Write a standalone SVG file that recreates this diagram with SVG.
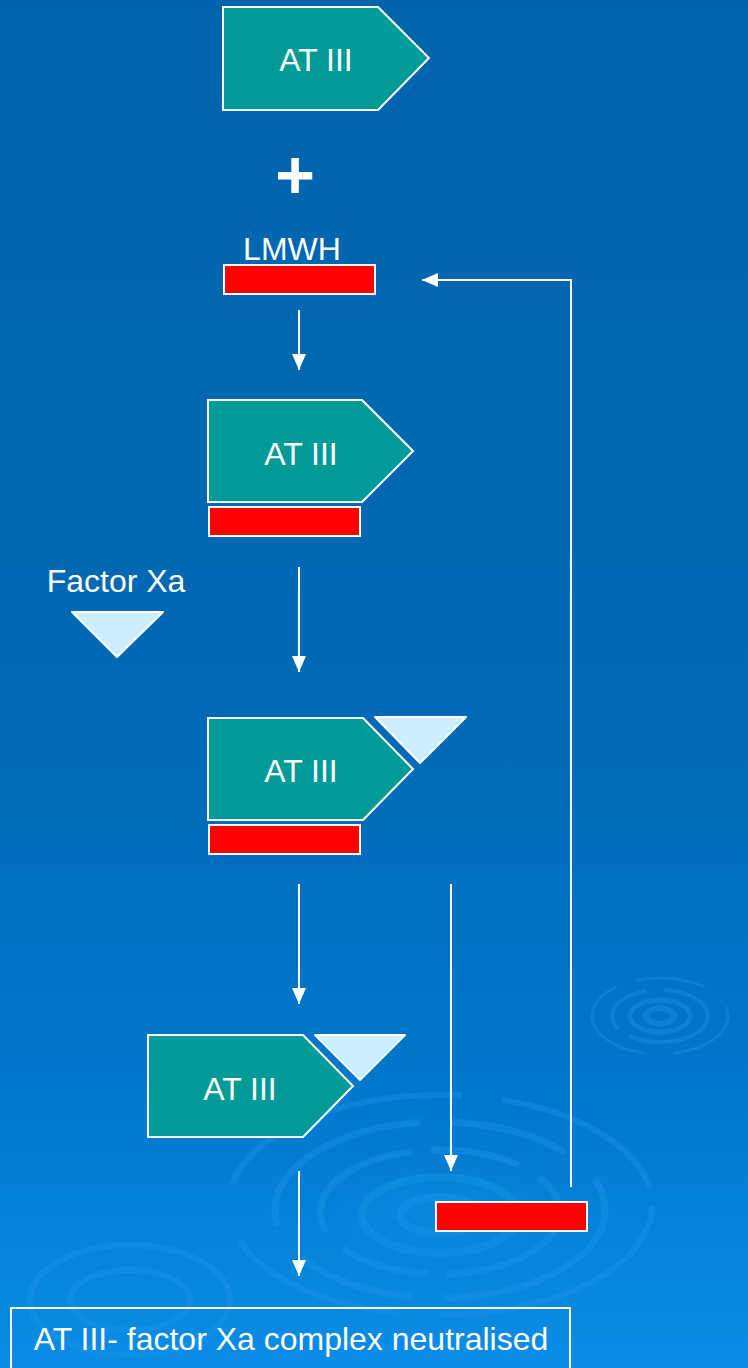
<svg xmlns="http://www.w3.org/2000/svg" width="748" height="1368" viewBox="0 0 748 1368">
  <defs>
    <linearGradient id="bg" x1="0" y1="0" x2="0" y2="1">
      <stop offset="0" stop-color="#0064AC"/>
      <stop offset="0.55" stop-color="#006AB6"/>
      <stop offset="0.8" stop-color="#0078CC"/>
      <stop offset="1" stop-color="#0A8CE6"/>
    </linearGradient>
    <radialGradient id="dropCore" cx="0.5" cy="0.5" r="0.5">
      <stop offset="0" stop-color="#0A88DE"/>
      <stop offset="1" stop-color="#0A88DE" stop-opacity="0"/>
    </radialGradient>
    <!-- filled arrowhead, drawn pointing along +x so orient="auto" follows the line -->
    <marker id="arrow" viewBox="0 0 16 14" refX="16" refY="7" markerWidth="16" markerHeight="14" markerUnits="userSpaceOnUse" orient="auto">
      <path d="M0,0 L16,7 L0,14 Z" fill="#FFFFFF"/>
    </marker>
  </defs>
  <style>
    .atiii { fill: #009A97; stroke: #FFFFFF; stroke-width: 2; }
    .bar { fill: #FF0000; stroke: #FFFFFF; stroke-width: 2; }
    .xa { fill: #CDEEFF; stroke: #FFFFFF; stroke-width: 2; stroke-linejoin: round; }
    .lbl { font-family: "Liberation Sans", Arial, sans-serif; fill: #FFFFFF; font-size: 32px; }
    .conn { stroke: #FFFFFF; stroke-width: 2; fill: none; }
    .ring { fill: none; stroke: #1C95EC; stroke-opacity: 0.4; }
  </style>

  <!-- backdrop -->
  <rect x="0" y="0" width="748" height="1368" fill="url(#bg)"/>

  <!-- water ripples -->
  <g id="ripples">
    <ellipse cx="440" cy="1215" rx="110" ry="50" fill="url(#dropCore)"/>
    <ellipse class="ring" cx="440" cy="1215" rx="40" ry="18" stroke-width="8"/>
    <ellipse class="ring" cx="440" cy="1215" rx="78" ry="38" stroke-width="8"/>
    <ellipse class="ring" cx="440" cy="1212" rx="120" ry="62" stroke-width="7" stroke-dasharray="140 18 90 24"/>
    <ellipse class="ring" cx="440" cy="1210" rx="165" ry="88" stroke-width="7" stroke-dasharray="200 30 120 40"/>
    <ellipse class="ring" cx="440" cy="1205" rx="212" ry="110" stroke-width="6" stroke-dasharray="260 40 180 60"/>
    <ellipse class="ring" cx="660" cy="1016" rx="14" ry="8" stroke-width="6"/>
    <ellipse class="ring" cx="660" cy="1016" rx="30" ry="16" stroke-width="5"/>
    <ellipse class="ring" cx="660" cy="1016" rx="48" ry="26" stroke-width="4" stroke-dasharray="90 14 60 18"/>
    <ellipse class="ring" cx="660" cy="1016" rx="68" ry="38" stroke-width="3" stroke-dasharray="70 30 110 20"/>
    <ellipse class="ring" cx="130" cy="1300" rx="60" ry="30" stroke-width="6" stroke="#0058A0" stroke-opacity="0.25"/>
    <ellipse class="ring" cx="130" cy="1300" rx="100" ry="55" stroke-width="6" stroke="#0058A0" stroke-opacity="0.2"/>
  </g>

  <!-- connectors -->
  <g id="connectors">
    <line class="conn" x1="299" y1="310" x2="299" y2="370" marker-end="url(#arrow)"/>
    <line class="conn" x1="299" y1="567" x2="299" y2="672" marker-end="url(#arrow)"/>
    <line class="conn" x1="299" y1="884" x2="299" y2="1004" marker-end="url(#arrow)"/>
    <line class="conn" x1="451" y1="884" x2="451" y2="1171" marker-end="url(#arrow)"/>
    <line class="conn" x1="299" y1="1171" x2="299" y2="1276" marker-end="url(#arrow)"/>
    <polyline class="conn" points="571,1187 571,280 422,280" marker-end="url(#arrow)"/>
  </g>

  <!-- AT III alone -->
  <g id="atiii-free">
    <polygon class="atiii" points="223,7 378,7 429,58 378,110 223,110"/>
    <text class="lbl" x="316" y="71" text-anchor="middle">AT III</text>
  </g>

  <!-- plus sign -->
  <g id="plus">
    <text class="lbl" x="295" y="198" style="font-size:68px" font-weight="bold" text-anchor="middle">+</text>
  </g>

  <!-- LMWH -->
  <g id="lmwh">
    <text class="lbl" x="292" y="260" text-anchor="middle">LMWH</text>
    <rect class="bar" x="224" y="265" width="151" height="29"/>
  </g>

  <!-- AT III bound to LMWH -->
  <g id="atiii-lmwh">
    <polygon class="atiii" points="208,400 362,400 413,451 362,502 208,502"/>
    <text class="lbl" x="301" y="465" text-anchor="middle">AT III</text>
    <rect class="bar" x="209" y="507" width="151" height="29"/>
  </g>

  <!-- free factor Xa -->
  <g id="factor-xa">
    <text class="lbl" x="116" y="592" text-anchor="middle">Factor Xa</text>
    <polygon class="xa" points="72,612 163,612 117,657"/>
  </g>

  <!-- ternary complex -->
  <g id="ternary-complex">
    <polygon class="atiii" points="208,718 363,718 413,769 363,820 208,820"/>
    <text class="lbl" x="301" y="782" text-anchor="middle">AT III</text>
    <polygon class="xa" points="375,717 466,717 420,763"/>
    <rect class="bar" x="209" y="825" width="151" height="29"/>
  </g>

  <!-- AT III - factor Xa complex -->
  <g id="atiii-xa">
    <polygon class="atiii" points="148,1035 303,1035 353,1086 303,1137 148,1137"/>
    <text class="lbl" x="240" y="1100" text-anchor="middle">AT III</text>
    <polygon class="xa" points="315,1035 405,1035 360,1080"/>
  </g>

  <!-- released LMWH -->
  <g id="lmwh-released">
    <rect class="bar" x="436" y="1202" width="151" height="29"/>
  </g>

  <!-- outcome -->
  <g id="outcome">
    <rect x="11" y="1308" width="559" height="70" fill="none" stroke="#FFFFFF" stroke-width="2"/>
    <text class="lbl" x="291" y="1350" text-anchor="middle">AT III- factor Xa complex neutralised</text>
  </g>
</svg>
